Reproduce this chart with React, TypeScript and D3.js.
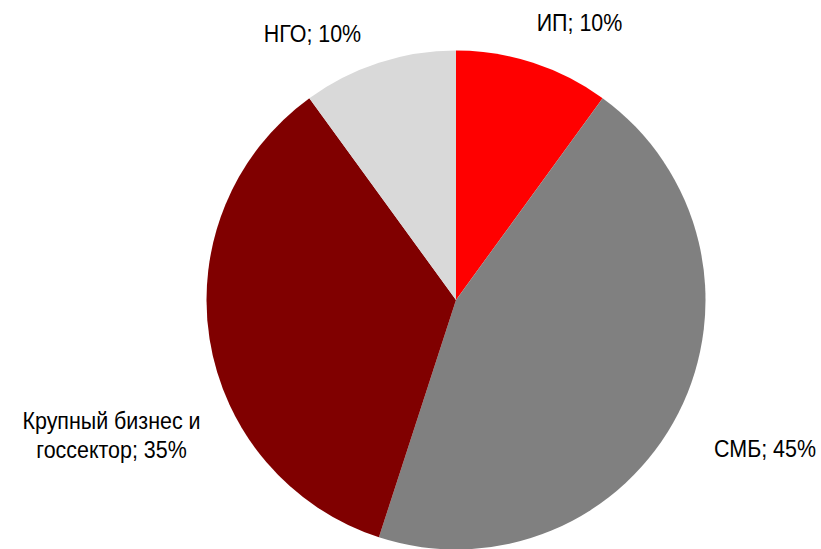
import React from "react";
import * as d3 from "d3";

const categories = ["ИП", "СМБ", "Крупный бизнес и госсектор", "НГО"];
const values = [10, 45, 35, 10];
const labelLines = [["ИП; 10%"], ["СМБ; 45%"], ["Крупный бизнес и", "госсектор; 35%"], ["НГО; 10%"]];
const colors = ["#FF0000", "#808080", "#800000", "#D9D9D9"];
const labelPos: [number, number][] = [[579.5, 30.5], [765, 456.5], [111.5, 429], [312.5, 42]];

export default function App() {
  const W = 821, H = 549;
  const cx = 456, cy = 300, r = 249.5;
  const sx = 0.875;
  const pie = d3.pie<number>().sort(null).value((d) => d)(values);
  const arc = d3.arc<d3.PieArcDatum<number>>().innerRadius(0).outerRadius(r);
  return (
    <svg width={W} height={H} style={{ position: "absolute", left: 0, top: 0 }}>
      <g transform={`translate(${cx},${cy})`}>
        {pie.map((p, i) => (
          <path key={categories[i]} d={arc(p) || ""} fill={colors[i]} />
        ))}
      </g>
      {labelLines.map((lines, i) => (
        <g key={i} transform={`translate(${labelPos[i][0]},${labelPos[i][1]}) scale(${sx},1)`}>
          <text
            x={0}
            y={0}
            textAnchor="middle"
            fontFamily="'Liberation Sans', Arial, sans-serif"
            fontSize={24.5}
            fill="#000"
          >
            {lines.map((l, j) => (
              <tspan key={j} x={0} dy={j === 0 ? 0 : 29}>
                {l}
              </tspan>
            ))}
          </text>
        </g>
      ))}
    </svg>
  );
}
